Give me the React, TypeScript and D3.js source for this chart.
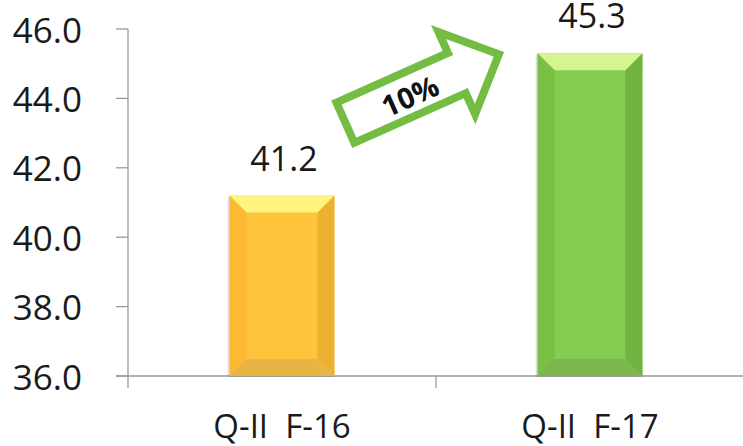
import React from "react";
import * as d3 from "d3";

const categories = ["Q-II  F-16", "Q-II  F-17"];
const values = [41.2, 45.3];
const valueLabels = ["41.2", "45.3"];
const yTicks = [36, 38, 40, 42, 44, 46];
const growthLabel = "10%";

const W = 743;
const H = 446;
const FONT = "'Open Sans', 'Liberation Sans', sans-serif";

const palettes = [
  { top: "#FFF47E", left: "#FBB934", center: "#FDC43C", right: "#EDB132", bottom: "#E8B446" },
  { top: "#D6F592", left: "#79C145", center: "#85CD50", right: "#70B33E", bottom: "#7DB64E" },
];

export default function App() {
  const plotLeft = 128;
  const y = d3.scaleLinear().domain([36, 46]).range([376, 29]);
  const x = d3.scaleBand<string>().domain(categories).range([plotLeft, plotLeft + 616]).padding(0);
  const bw = x.bandwidth() * 0.34;
  const bevel = 17;
  const axisColor = "#9a9a9a";

  // arrow annotation (local frame: along shaft, across)
  const arrowAnchorX = (x(categories[0]) as number) + x.bandwidth() / 2 + bw / 2 + 11;
  const arrowAnchorY = y(43.3);
  const shaftH = 22;
  const shaftL = 122;
  const headH = 45;
  const tipL = 168;
  const arrowPts: [number, number][] = [
    [0, -shaftH], [shaftL, -shaftH], [shaftL, -headH], [tipL, 0],
    [shaftL, headH], [shaftL, shaftH], [0, shaftH],
  ];
  const arrowPath = d3.line()(arrowPts) + "Z";

  return (
    <svg width={W} height={H} style={{ position: "absolute", left: 0, top: 0, background: "#fff" }}>
      {/* axes */}
      <line x1={plotLeft} x2={plotLeft} y1={y(46)} y2={y(36) + 12} stroke={axisColor} strokeWidth={1.3} />
      <line x1={plotLeft - 12} x2={W} y1={y(36)} y2={y(36)} stroke={axisColor} strokeWidth={1.3} />
      {yTicks.map((t) => (
        <g key={t}>
          <line x1={plotLeft - 12} x2={plotLeft} y1={y(t)} y2={y(t)} stroke={axisColor} strokeWidth={1.3} />
          <text x={82} y={y(t)} textAnchor="end" dominantBaseline="central" fontFamily={FONT} fontSize={35} fill="#1a1a1a">
            {t.toFixed(1)}
          </text>
        </g>
      ))}
      {categories.slice(1).map((c) => (
        <line key={c} x1={x(c)} x2={x(c)} y1={y(36)} y2={y(36) + 12} stroke={axisColor} strokeWidth={1.3} />
      ))}

      {/* bars */}
      {categories.map((c, i) => {
        const cx = (x(c) as number) + x.bandwidth() / 2;
        const x0 = cx - bw / 2;
        const x1 = cx + bw / 2;
        const y0 = y(values[i]);
        const y1 = y(36);
        const b = bevel;
        const p = palettes[i];
        const poly = (pts: number[][]) => pts.map((q) => q.join(",")).join(" ");
        return (
          <g key={c}>
            <rect x={x0 - 2} y={y0 + 1} width={bw + 2} height={y1 - y0} fill="#000" opacity={0.12} />
            <rect x={x0} y={y0} width={bw} height={y1 - y0} fill={p.center} />
            <polygon points={poly([[x0, y0], [x0 + b, y0 + b], [x0 + b, y1 - b], [x0, y1]])} fill={p.left} />
            <polygon points={poly([[x1, y0], [x1 - b, y0 + b], [x1 - b, y1 - b], [x1, y1]])} fill={p.right} />
            <polygon points={poly([[x0, y1], [x0 + b, y1 - b], [x1 - b, y1 - b], [x1, y1]])} fill={p.bottom} />
            <polygon points={poly([[x0, y0], [x1, y0], [x1 - b, y0 + b], [x0 + b, y0 + b]])} fill={p.top} />
            <text x={cx + 2} y={y0 - 25} textAnchor="middle" fontFamily={FONT} fontSize={34} fill="#1a1a1a">
              {valueLabels[i]}
            </text>
            <text x={cx} y={438} textAnchor="middle" fontFamily={FONT} fontSize={33} fill="#1a1a1a" style={{ whiteSpace: "pre" }}>
              {c}
            </text>
          </g>
        );
      })}

      {/* growth arrow */}
      <g transform={`translate(${arrowAnchorX},${arrowAnchorY}) rotate(-24)`}>
        <path d={arrowPath} fill="#fff" stroke="#74BD43" strokeWidth={8} strokeLinejoin="miter" />
        <text x={70} y={1} textAnchor="middle" dominantBaseline="central" fontFamily={FONT} fontWeight="bold" fontSize={29} fill="#111">
          {growthLabel}
        </text>
      </g>
    </svg>
  );
}
